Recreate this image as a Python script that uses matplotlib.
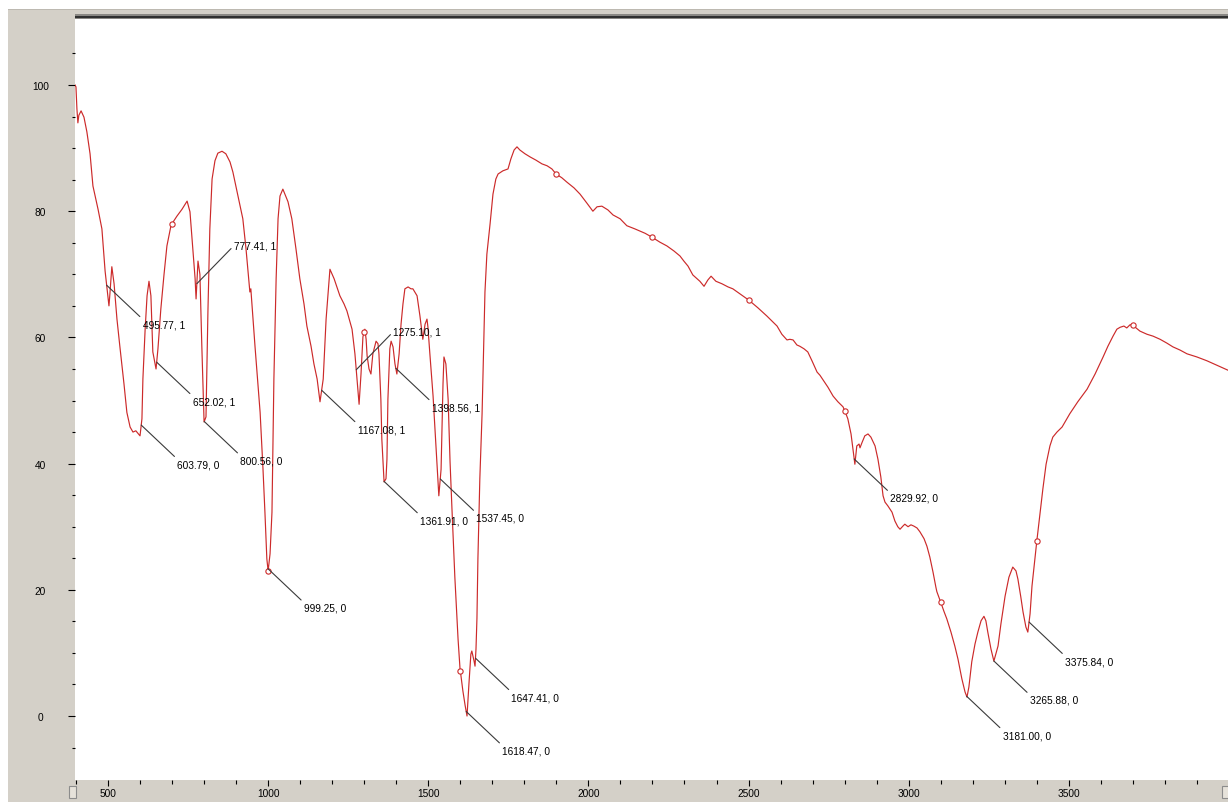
import numpy as np
import matplotlib
matplotlib.use("Agg")
import matplotlib.pyplot as plt
from matplotlib.ticker import MultipleLocator, FixedLocator
from matplotlib.patches import Rectangle

# spectrum: wavenumber (cm-1) and transmittance (%)
wavenumber = [
    397, 400, 403, 406, 409, 416, 425, 434, 444, 453, 469, 481, 491, 497, 503, 506,
    512, 519, 528, 537, 550, 559, 569, 578, 587, 600, 606, 609, 616, 622, 628, 634,
    640, 650, 656, 665, 675, 684, 697, 715, 731, 747, 756, 765, 772, 775, 781, 787,
    793, 800, 806, 812, 818, 825, 834, 843, 856, 868, 881, 890, 906, 921, 931, 943,
    946, 959, 975, 984, 990, 996, 1000, 1006, 1012, 1018, 1025, 1031, 1037, 1046,
    1062, 1074, 1087, 1099, 1112, 1121, 1134, 1143, 1153, 1162, 1172, 1181, 1193,
    1206, 1224, 1237, 1246, 1262, 1271, 1277, 1284, 1290, 1296, 1302, 1306, 1309,
    1315, 1321, 1327, 1337, 1343, 1346, 1352, 1355, 1362, 1368, 1371, 1374, 1380,
    1384, 1390, 1396, 1402, 1409, 1415, 1421, 1427, 1437, 1446, 1452, 1465, 1474,
    1483, 1490, 1496, 1499, 1505, 1515, 1521, 1527, 1533, 1540, 1543, 1546, 1549,
    1555, 1562, 1568, 1574, 1583, 1593, 1599, 1608, 1615, 1621, 1627, 1633, 1636,
    1643, 1646, 1649, 1652, 1655, 1661, 1668, 1677, 1683, 1693, 1702, 1711, 1718,
    1733, 1749, 1758, 1768, 1777, 1786, 1802, 1818, 1836, 1855, 1871, 1886, 1899,
    1917, 1933, 1955, 1974, 1995, 2014, 2027, 2042, 2061, 2077, 2099, 2120, 2145,
    2177, 2198, 2223, 2245, 2267, 2286, 2298, 2311, 2326, 2339, 2348, 2361, 2373,
    2383, 2398, 2417, 2436, 2451, 2473, 2501, 2529, 2557, 2573, 2589, 2604, 2620,
    2629, 2639, 2651, 2660, 2673, 2685, 2698, 2714, 2723, 2735, 2748, 2764, 2779,
    2795, 2801, 2810, 2820, 2826, 2832, 2838, 2845, 2848, 2854, 2863, 2873, 2882,
    2895, 2904, 2913, 2920, 2926, 2935, 2948, 2957, 2966, 2973, 2982, 2988, 2998,
    3007, 3016, 3026, 3035, 3048, 3057, 3066, 3076, 3085, 3088, 3101, 3110, 3119,
    3132, 3144, 3154, 3166, 3176, 3182, 3188, 3197, 3207, 3216, 3226, 3235, 3241,
    3247, 3257, 3266, 3272, 3279, 3288, 3301, 3313, 3325, 3335, 3341, 3350, 3357,
    3366, 3372, 3379, 3385, 3394, 3400, 3410, 3419, 3429, 3441, 3450, 3463, 3479,
    3503, 3528, 3557, 3582, 3607, 3622, 3638, 3650, 3660, 3672, 3681, 3691, 3700,
    3710, 3722, 3744, 3763, 3785, 3806, 3825, 3847, 3869, 3900, 3931, 3962, 3997,
]
transmittance = [
    100.0, 99.7, 96.2, 94.0, 95.2, 95.9, 94.9, 92.6, 89.1, 84.0, 80.3, 77.2, 70.5, 67.7, 65.0, 66.9,
    71.2, 68.5, 62.9, 58.6, 52.6, 48.1, 45.8, 45.0, 45.2, 44.4, 47.1, 53.4, 61.3, 66.6, 68.9, 66.6,
    57.7, 55.0, 58.2, 64.5, 70.0, 74.5, 77.8, 79.2, 80.3, 81.6, 79.9, 74.0, 69.3, 66.1, 72.1, 70.0,
    58.6, 46.6, 47.4, 64.0, 77.2, 85.1, 88.0, 89.2, 89.5, 89.1, 87.8, 86.2, 82.4, 78.8, 74.0, 67.2,
    67.7, 58.6, 48.1, 39.1, 32.3, 24.9, 23.0, 25.7, 32.3, 53.4, 69.3, 78.8, 82.4, 83.5,
    81.5, 78.8, 74.0, 69.3, 65.3, 61.8, 58.6, 55.8, 53.4, 49.8, 53.4, 62.9, 70.8,
    69.3, 66.6, 65.3, 64.2, 61.3, 57.4, 53.7, 49.4, 54.2, 60.1, 61.3, 59.7, 57.1,
    55.0, 54.2, 57.4, 59.4, 59.0, 57.4, 50.2, 43.9, 37.1, 37.6, 40.7, 50.2, 58.2,
    59.4, 58.5, 55.8, 54.2, 57.4, 62.1, 65.3, 67.7, 68.0, 67.7, 67.7, 66.6, 63.4,
    59.7, 62.1, 62.9, 61.6, 57.4, 50.7, 45.5, 40.3, 34.9, 39.1, 45.5, 52.6, 56.9,
    55.8, 50.2, 40.3, 32.8, 22.0, 12.2, 7.6, 4.0, 1.7, 0.0, 5.1, 9.8, 10.3,
    8.7, 7.9, 10.6, 15.5, 24.9, 37.6, 47.9, 67.2, 73.2, 78.0, 82.7, 85.1, 85.9,
    86.4, 86.7, 88.3, 89.7, 90.2, 89.7, 89.1, 88.6, 88.1, 87.5, 87.2, 86.7, 85.9,
    85.3, 84.6, 83.7, 82.7, 81.3, 80.0, 80.7, 80.8, 80.2, 79.4, 78.8, 77.7, 77.2,
    76.5, 75.9, 75.1, 74.5, 73.7, 72.9, 72.1, 71.3, 69.9, 69.3, 68.9, 68.1, 69.1,
    69.7, 68.9, 68.5, 68.0, 67.7, 66.9, 65.9, 64.7, 63.4, 62.6, 61.8, 60.5, 59.6,
    59.7, 59.6, 58.8, 58.6, 58.2, 57.7, 56.3, 54.5, 54.0, 53.1, 52.1, 50.7, 49.8,
    49.0, 48.3, 47.1, 44.7, 42.3, 39.9, 42.8, 43.1, 42.5, 43.3, 44.4, 44.7, 44.2,
    42.8, 40.7, 37.9, 34.9, 33.9, 33.3, 32.3, 30.9, 30.0, 29.6, 30.1, 30.4, 30.0,
    30.3, 30.1, 29.8, 29.2, 28.1, 26.9, 25.2, 22.8, 20.4, 19.7, 17.9, 16.6, 15.4,
    13.3, 11.1, 9.0, 5.9, 3.8, 3.0, 4.6, 8.6, 11.4, 13.3, 15.1, 15.8, 15.1,
    13.3, 10.6, 8.7, 9.8, 11.1, 14.6, 19.0, 22.0, 23.6, 23.0, 21.7, 18.9, 16.5,
    14.1, 13.3, 16.2, 20.6, 24.9, 27.7, 32.0, 36.0, 39.9, 42.8, 44.2, 45.0, 45.8,
    47.9, 49.8, 51.8, 54.2, 56.9, 58.6, 60.2, 61.3, 61.6, 61.8, 61.5, 62.0, 62.0,
    61.5, 61.0, 60.5, 60.2, 59.7, 59.1, 58.5, 58.0, 57.4, 56.9, 56.3, 55.6, 54.8,
]

# picked peaks and their flag as printed by the software
peak_wn = [495.77, 603.79, 652.02, 777.41, 800.56, 999.25, 1167.08, 1275.10,
           1361.91, 1398.56, 1537.45, 1618.47, 1647.41, 2829.92, 3181.00,
           3265.88, 3375.84]
peak_flag = [1, 0, 1, 1, 0, 0, 1, 1, 0, 1, 0, 0, 0, 0, 0, 0, 0]
label_up = [False, False, False, True, False, False, False, True,
            False, False, False, False, False, False, False, False, False]

marker_wn = list(range(700, 4000, 300))
y_minor = list(range(-5, 110, 5))

BG = "#d4d0c8"
RED = "#cc2a2a"
FS = 7.3

fig = plt.figure(figsize=(12.28, 8.03), dpi=100, facecolor=BG)
W, H = 1228, 803

# white margins of the screenshot (top and left)
fig.patches.append(Rectangle((0, 1 - 10 / H), 1, 10 / H, transform=fig.transFigure,
                             facecolor="white", edgecolor="none", zorder=1))
fig.patches.append(Rectangle((0, 0), 8 / W, 1, transform=fig.transFigure,
                             facecolor="white", edgecolor="none", zorder=1))
fig.patches.append(Rectangle((8 / W, 1 - 11 / H), 1, 1 / H, transform=fig.transFigure,
                             facecolor="#bdb9b1", edgecolor="none", zorder=1))

ax = fig.add_axes([75 / W, 22 / H, (W - 75) / W, 761 / H])
ax.set_facecolor("white")
for s in ax.spines.values():
    s.set_visible(False)

# double border on top of plot area
fig.patches.append(Rectangle((75 / W, 1 - 20 / H), 1, 5 / H, transform=fig.transFigure,
                             facecolor="#8a8884", edgecolor="none", zorder=3))
fig.patches.append(Rectangle((75 / W, 1 - 18.5 / H), 1, 2 / H, transform=fig.transFigure,
                             facecolor="#303030", edgecolor="none", zorder=4))

wn = np.array(wavenumber)
tr = np.array(transmittance)
ax.plot(wn, tr, color=RED, lw=0.85, zorder=3)
ax.plot(marker_wn, np.interp(marker_wn, wn, tr), ls="none", marker="o", ms=3.8,
        mfc="white", mec=RED, mew=0.8, zorder=4)

for w, f, up in zip(peak_wn, peak_flag, label_up):
    y = np.interp(w, wn, tr)
    if up:
        off, va, rp = (37, 38), "center", (0, 0.5)
    else:
        off, va, rp = (36, -34), "top", (0, 1)
    ax.annotate(f"{w:.2f}, {f}", xy=(w, y), xytext=off, textcoords="offset pixels",
                ha="left", va=va, fontsize=FS, family="Liberation Sans", color="black",
                arrowprops=dict(arrowstyle="-", color="#3a3a3a", lw=0.8, relpos=rp,
                                shrinkA=0, shrinkB=0), zorder=5)

ax.set_xlim(397, 3997)
ax.set_ylim(-10.14, 110.46)

ax.xaxis.set_major_locator(MultipleLocator(500))
ax.xaxis.set_minor_locator(MultipleLocator(100))
ax.yaxis.set_major_locator(MultipleLocator(20))
ax.yaxis.set_minor_locator(FixedLocator(y_minor))
ax.tick_params(axis="both", which="both", direction="out", color="black", width=0.8,
               labelsize=FS)
ax.tick_params(axis="x", which="major", length=4.5, pad=1)
ax.tick_params(axis="x", which="minor", length=3)
ax.tick_params(axis="y", which="major", length=5, pad=20)
ax.tick_params(axis="y", which="minor", length=2.2)
for lbl in ax.get_yticklabels():
    lbl.set_horizontalalignment("center")
    lbl.set_family("Liberation Sans")
for lbl in ax.get_xticklabels():
    lbl.set_family("Liberation Sans")

# little scroll buttons at both ends of the x axis
for px in (69, 1222):
    fig.patches.append(Rectangle((px / W, 4 / H), 7 / W, 12 / H, transform=fig.transFigure,
                                 facecolor="#e6e2da", edgecolor="#8c8c8c", lw=0.8, zorder=3))

fig.savefig("out.png", dpi=100, facecolor=fig.get_facecolor())
